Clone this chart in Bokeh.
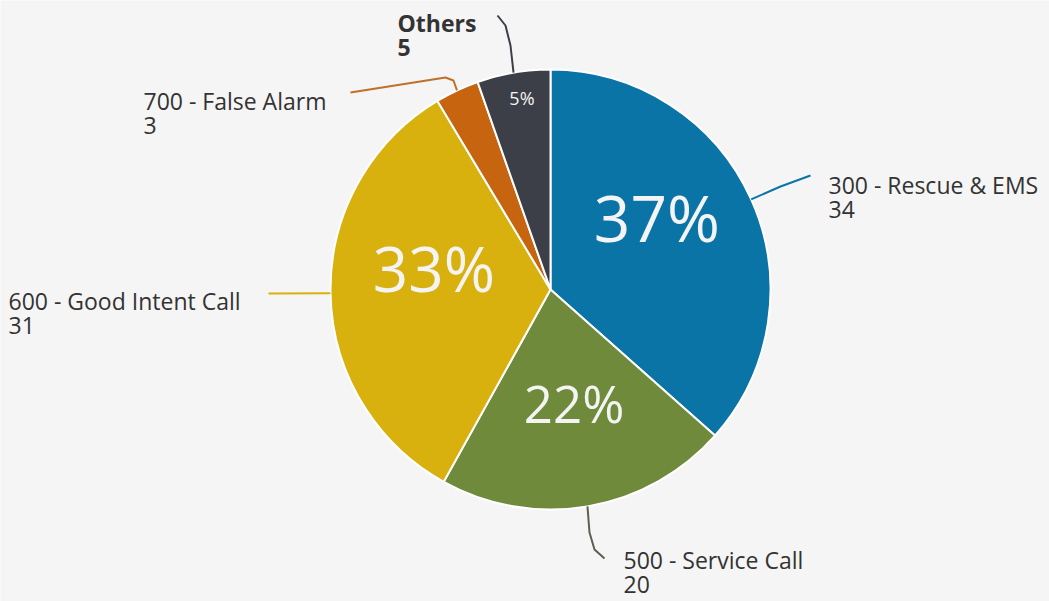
import math
from bokeh.plotting import figure
from bokeh.models import Range1d
from bokeh.core.properties import value
from bokeh.embed import file_html
from bokeh.resources import INLINE

# ---- data ----
categories = ["300 - Rescue & EMS", "500 - Service Call", "600 - Good Intent Call",
              "700 - False Alarm", "Others"]
counts = [34, 20, 31, 3, 5]

# ---- style ----
colors = ["#0b74a6", "#6f8a3b", "#d9b10e", "#c6640f", "#3c3f48"]
line_colors = ["#0b74a6", "#5b6150", "#d9b10e", "#c0702a", "#3c3f48"]
pct_sizes = [64, 51, 62, 0, 18]
pct_radius = [0.55, 0.53, 0.53, 0.0, 0.88]
pct_nudge = [(-4, 22), (4, 1), (0, 23), (0, 0), (4, 1)]
label_bold = [False, False, False, False, True]

W, H = 1049, 601
FONT = value("Open Sans")


def px(X, Y):
    """convert a position measured on the 1049x601 page into plot coordinates"""
    return X, H - Y


# label layout (page coordinates): text x, first line centre y, leader path after the slice edge
label_layout = [
    (828, 184, [(780, 186), (810, 175)]),
    (623, 559, [(589, 532), (594, 549), (604, 558)]),
    (8, 300, [(268, 293)]),
    (143, 100, [(453, 80), (445, 77), (350, 92)]),
    (397, 22, [(510, 45), (505, 25), (497, 15)]),
]

cx, cy = px(550, 289)
R = 220

p = figure(width=W, height=H, x_range=Range1d(0, W), y_range=Range1d(0, H),
           output_backend="svg", toolbar_location=None, min_border=0)
p.axis.visible = False
p.grid.visible = False
p.outline_line_color = None
p.background_fill_color = "#f5f5f5"
p.border_fill_color = "#f5f5f5"

total = sum(counts)
cum = 0
for i, c in enumerate(counts):
    a0 = cum / total * 2 * math.pi
    cum += c
    a1 = cum / total * 2 * math.pi
    # angles measured clockwise from 12 o'clock; convert to bokeh angles
    p.wedge(x=[cx], y=[cy], radius=R,
            start_angle=[math.pi / 2 - a1], end_angle=[math.pi / 2 - a0],
            fill_color=colors[i], line_color="white", line_width=2)

    mid = (a0 + a1) / 2
    ex, ey = cx + R * math.sin(mid), cy + R * math.cos(mid)

    # leader line
    tx, ty, path = label_layout[i]
    xs = [ex] + [px(X, Y)[0] for X, Y in path]
    ys = [ey] + [px(X, Y)[1] for X, Y in path]
    p.line(xs, ys, line_color=line_colors[i], line_width=2)

    # outside label
    lx, ly = px(tx, ty)
    style = "bold" if label_bold[i] else "normal"
    p.text(x=[lx], y=[ly], text=[categories[i]], text_font=FONT, text_font_size="23px",
           text_font_style=style, text_color="#333333", text_baseline="middle", text_align="left")
    p.text(x=[lx], y=[ly - 25], text=[str(c)], text_font=FONT, text_font_size="23px",
           text_font_style=style, text_color="#333333", text_baseline="middle", text_align="left")

    # percentage inside slice
    pct = round(100 * c / total)
    if pct >= 5:
        f = pct_radius[i]
        nx, ny = pct_nudge[i]
        px_ = cx + R * f * math.sin(mid) + nx
        py_ = cy + R * f * math.cos(mid) + ny
        p.text(x=[px_], y=[py_], text=[f"{pct}%"], text_font=FONT,
               text_font_size=f"{pct_sizes[i]}px", text_color="#f4f4f4",
               text_baseline="middle", text_align="center")

open("out.html", "w").write(file_html(p, INLINE))
